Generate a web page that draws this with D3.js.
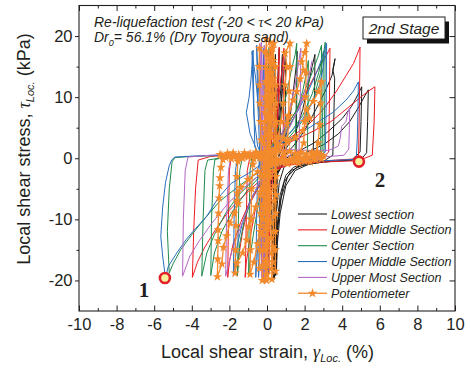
<!DOCTYPE html>
<html><head><meta charset="utf-8">
<script src="https://cdn.jsdelivr.net/npm/d3@7"></script>
<style>
body{margin:0;background:#fff;}
svg{display:block;}
text{font-family:"Liberation Sans",Arial,sans-serif;fill:#231f20;}
</style></head><body>
<svg id="chart" width="471" height="368"></svg>
<script>
// ---- axis ticks ----
const xTickValues = [-10, -8, -6, -4, -2, 0, 2, 4, 6, 8, 10];
const xMinorTicks = [-9, -7, -5, -3, -1, 1, 3, 5, 7, 9];
const yTickValues = [-20, -10, 0, 10, 20];
const yMinorTicks = [-15, -5, 5, 15];

// ---- local shear strain (%) / local shear stress (kPa) records ----
const lowestSection = [
  [0.38,-19.5],[0.4,-8],[0.42,0],[0.5,8],[0.6,15],[0.65,18],[0.6,10],[0.5,2],[0.42,-5],[0.4,-12],[0.36,-19.6],
  [0.38,-10],[0.4,-3],[0.45,0],[0.6,6],[0.75,12],[0.82,17],[0.78,9],[0.65,1],[0.5,-2],[0.44,-8],[0.42,-14],[0.4,-19.8],
  [0.05,0],[0.15,8],[0.25,15],[0.3,19],[0.28,10],[0.22,0],[0.25,-8],[0.3,-15],[0.32,-19],
  [0.34,-10],[0.35,0],[0.4,9],[0.45,17],[0.42,8],[0.38,0],[0.36,-9],[0.38,-18],
  [0.4,-10],[0.45,-2],[0.55,3],[0.75,9],[0.9,14],[1.0,17.5],[0.98,10],[0.95,2],[0.8,-0.5],[0.6,-1.5],[0.48,-4],[0.42,-10],[0.4,-18.5],
  [0.42,-10],[0.46,-3],[0.6,0],[0.9,2.5],[1.2,6],[1.4,11],[1.55,15],[1.6,17.5],[1.58,9],[1.55,1],[1.3,-0.5],[0.9,-1.5],[0.65,-4],[0.5,-9],[0.45,-14],[0.42,-19],
  [0.44,-11],[0.48,-4],[0.65,-0.5],[1.0,1.5],[1.5,4],[1.9,8],[2.2,12],[2.4,15],[2.55,17],[2.52,8],[2.45,0.5],[2.0,-0.8],[1.4,-1.5],[1.0,-2.8],[0.7,-6],[0.55,-11],[0.45,-18.8],
  [0.46,-10],[0.5,-3],[0.8,0],[1.4,2],[2.0,4.5],[2.6,8],[3.1,11],[3.45,13.5],[3.55,15],[3.62,16.3],[3.5,14.5],[3.6,13],[3.55,6],[3.5,0.5],[3.0,-0.5],[2.0,-1],[1.3,-2],[0.9,-4],[0.65,-8],[0.52,-13],[0.46,-19.2],
  [0.48,-10],[0.52,-3],[0.9,-0.2],[1.6,1],[2.5,2.5],[3.3,4.5],[4.0,6.5],[4.5,8.5],[4.85,10.5],[5.04,11.7],[5.0,6],[4.95,1],[4.5,-0.3],[3.5,-0.5],[2.5,-0.8],[1.6,-1.4],[1.1,-3],[0.75,-6.5],[0.55,-12],[0.48,-18.5],
  [0.5,-9],[0.55,-2.5],[1.0,-0.3],[2.0,0.8],[3.0,2.2],[3.8,4],[4.4,6],[4.9,8.5],[5.2,10.2],[5.39,11.2],[5.35,6],[5.3,0.9],[5.0,-0.2],[4.0,-0.4],[3.0,-0.6],[2.2,-1],[1.5,-2],[1.0,-4.5],[0.7,-9],[0.55,-14],[0.5,-19]
];
const lowerMiddleSection = [
  [0,0],[0.1,9],[0.2,18],[0.15,8],[0.05,0],[0.0,-9],[-0.05,-19],[0.0,-9],[0.1,0],[0.2,8],[0.35,18.5],[0.3,8],[0.2,0],[0.1,-8],[0.0,-18.5],
  [0.1,-9],[0.25,0],[0.45,7],[0.6,14],[0.65,18.2],[0.62,10],[0.5,1],[0.3,-3],[0.15,-10],[0.1,-19],
  [0.05,-8],[0.1,-1],[0.3,1.5],[0.5,6],[0.7,12],[0.85,16],[0.9,18],[0.88,9],[0.85,1],[0.6,-0.5],[0.2,-1.5],[-0.2,-4],[-0.6,-8],[-0.9,-13],[-1.1,-17],[-1.16,-19.5],
  [-1.1,-10],[-1.05,-2],[-0.9,0.3],[-0.4,0.6],[0,1],
  [0.4,2.5],[1.0,5],[1.6,8],[2.2,11.5],[2.7,14.5],[3.1,16.5],[3.35,18],[3.32,9],[3.28,1],[2.8,-0.3],[1.8,-0.6],[0.9,-1],[0.3,-2],[-0.3,-4],[-0.9,-7],[-1.4,-10.5],[-1.8,-14],[-2.0,-17],[-2.09,-19.5],
  [-2.05,-10],[-2.0,-2],[-1.9,0.2],[-1.2,0.5],[-0.4,0.8],[0,1.2],
  [0.5,2],[1.3,3.5],[2.2,5.5],[3.0,8],[3.7,11],[4.2,13.5],[4.6,15.5],[4.8,17],[4.95,18.2],[4.92,10],[4.88,2],[4.86,-0.4],[4.0,-0.5],[3.0,-0.6],[2.0,-0.8],[1.0,-1.2],[0.3,-2.2],[-0.5,-4],[-1.2,-6],[-2.0,-8.5],[-2.7,-11.5],[-3.3,-14.5],[-3.7,-17],[-3.97,-19.5],
  [-3.9,-12],[-3.8,-5],[-3.66,-0.3],[-3.0,0.3],[-2.0,0.5],[-1.0,0.7],[-0.2,1],
  [0.6,1.8],[1.5,3],[2.5,4.5],[3.4,6],[4.2,8],[4.9,9.8],[5.4,11],[5.74,11.7],[5.7,6],[5.6,0.5],[5.2,0],[4.2,-0.2],[3.2,-0.4],[2.2,-0.6],[1.2,-1],[0.5,-1.8],[0.0,-3],[-0.5,-5],[-1.0,-8],[-1.3,-12],[-1.5,-16],[-1.6,-19.2]
];
const centerSection = [
  [0,0],[0.05,9],[0.1,18],[0.08,8],[0.02,0],[-0.05,-9],[-0.1,-19],[-0.05,-9],[0.05,0],[0.15,9],[0.3,18.5],[0.25,8],[0.15,0],[0.0,-9],[-0.2,-19],
  [-0.15,-9],[-0.1,-1],[0.2,1.5],[0.6,5],[1.0,10],[1.3,14.5],[1.5,17],[1.58,18.8],[1.55,9],[1.5,1],[1.2,-0.3],[0.6,-0.8],[0.1,-2],[-0.3,-5],[-0.6,-10],[-0.85,-15],[-0.98,-19.3],
  [-0.95,-10],[-0.9,-2],[-0.8,0.4],[-0.3,0.7],[0.05,1],
  [0.4,2.5],[0.9,4.5],[1.5,7.5],[2.0,11],[2.4,14],[2.7,16.5],[2.9,18.5],[2.88,9],[2.85,1],[2.4,-0.3],[1.5,-0.5],[0.8,-0.9],[0.2,-1.8],[-0.3,-3.5],[-0.8,-6.5],[-1.2,-10],[-1.45,-14],[-1.57,-19.2],
  [-1.52,-10],[-1.45,-2],[-1.3,0.3],[-0.6,0.5],[0,0.9],
  [0.5,2],[1.0,4],[1.5,7],[1.9,11],[2.1,14],[2.2,16],[2.18,8],[2.15,1],[1.7,-0.3],[1.0,-0.6],[0.3,-1.3],[-0.4,-3],[-1.1,-5.5],[-1.8,-8.5],[-2.4,-12],[-2.8,-15.5],[-2.99,-19.2],
  [-2.95,-10],[-2.85,-2],[-2.77,-0.2],[-2.0,0.3],[-1.0,0.5],[-0.2,0.8],
  [0.5,2],[1.2,4],[1.9,7],[2.4,10.5],[2.75,14],[3.0,17.5],[2.97,9],[2.93,1],[2.5,-0.3],[1.6,-0.5],[0.7,-0.9],[0.0,-1.8],[-0.7,-3.5],[-1.5,-6],[-2.2,-9],[-2.8,-12.5],[-3.2,-15.5],[-3.47,-19.3],
  [-3.4,-10],[-3.3,-2],[-3.16,-0.3],[-2.2,0.2],[-1.2,0.4],[-0.3,0.7],
  [0.4,1.5],[1.2,3.5],[2.0,6.5],[2.5,10],[2.85,14],[3.1,19],[3.07,9],[3.03,1],[2.6,-0.2],[1.7,-0.4],[0.8,-0.7],[0.0,-1.5],[-0.8,-3],[-1.6,-4.8],[-2.5,-7],[-3.3,-9.8],[-4.0,-12.5],[-4.6,-15],[-5.0,-17.3],[-5.2,-18.8],
  [-5.3,-12],[-5.2,-5],[-5.05,-0.6],[-4.9,0.1],[-4.0,0.3],[-3.0,0.4],[-2.0,0.5],[-1.0,0.6],[-0.3,0.8]
];
const upperMiddleSection = [
  [-0.2,-19],[-0.25,-10],[-0.3,0],[-0.4,8],[-0.5,15],[-0.55,18.5],[-0.5,10],[-0.4,2],[-0.3,-6],[-0.25,-14],[-0.2,-20],
  [0,0],[-0.1,9],[-0.2,18],[-0.15,8],[-0.05,0],[0.0,-9],[0.05,-19],[0.03,-9],[0,0],[-0.2,4],[-0.45,8],[-0.6,13],[-0.8,17.5],
  [-0.75,12],[-0.7,7],[-0.5,2],[-0.3,0.5],[-0.1,-2],[-0.2,-8],[-0.35,-14],[-0.45,-19.5],[-0.4,-10],[-0.35,-2],[-0.5,1],
  [-0.9,4],[-1.1,7.5],[-0.95,10],[-0.85,13],[-0.74,17.7],[-0.7,9],[-0.65,2],[-0.5,0.3],[-0.2,-0.5],[-0.1,-3],[-0.3,-9],[-0.5,-15],[-0.6,-19.5],
  [-0.55,-10],[-0.5,-2],[-0.3,0.5],[0.1,1],
  [0.5,2.5],[1.0,4.5],[1.6,7.5],[2.2,11],[2.7,14.5],[3.0,17],[3.17,18.8],[3.15,9],[3.1,1],[2.6,-0.2],[1.6,-0.5],[0.7,-1],[0.1,-2],[-0.4,-4],[-0.9,-7],[-1.3,-10.5],[-1.6,-14.5],[-1.79,-19.3],
  [-1.75,-10],[-1.68,-2],[-1.55,0.3],[-0.8,0.5],[0,0.9],
  [0.2,1.5],[0.8,2.5],[1.5,3.5],[2.5,5.5],[3.5,7.5],[4.2,9.5],[4.6,11],[4.86,12.5],[4.84,8],[4.8,3],[4.75,0.3],[4.6,-0.2],[3.5,-0.35],[2.5,-0.45],[1.5,-0.6],[0.7,-0.9],[0.3,-1.5],
  [-0.3,-1.0],[-1.0,-2.5],[-1.9,-4.1],[-2.6,-6.5],[-3.2,-9.5],[-3.8,-11.5],[-4.3,-13.3],[-4.8,-15.5],[-5.25,-17.7],[-5.4,-19.6],
  [-5.55,-16],[-5.65,-12.8],[-5.55,-8],[-5.4,-4],[-5.2,-1.2],[-5.05,-0.2],[-4.9,0.2],[-4.0,0.35],[-3.0,0.45],[-2.0,0.55],[-1.0,0.7],[-0.3,1.0],
  [0.3,2],[1.0,3.5],[1.8,6],[2.4,9],[2.8,12],[3.0,15],[3.1,17.5]
];
const upperMostSection = [
  [-0.3,-19.5],[-0.28,-10],[-0.25,0],[-0.3,9],[-0.38,18.8],[-0.32,9],[-0.22,0],[-0.2,-10],[-0.18,-20.2],
  [0,0],[-0.05,9],[-0.15,18.5],[-0.1,8],[-0.05,0],[-0.05,-10],[-0.1,-20.5],[-0.08,-10],[-0.05,0],[-0.2,9],[-0.3,19],[-0.25,8],[-0.15,0],[-0.1,-10],[-0.05,-20],
  [-0.05,-10],[0.0,-1],[0.3,1],[0.8,4],[1.2,8],[1.5,12],[1.7,16],[1.8,18],[1.77,9],[1.7,1.2],[1.2,0.5],[0.5,-0.5],[0.0,-2],[-0.5,-4.5],[-1.0,-8],[-1.5,-12],[-1.9,-15.5],[-2.2,-19.3],
  [-2.15,-10],[-2.05,-2],[-1.9,0.5],[-1.0,0.8],[-0.2,1.1],
  [0.5,1.5],[1.2,1.4],[2.0,1.3],[2.6,1.3],[3.3,1.3],[3.8,2],[3.9,3.4],[3.97,5.2],[4.2,6],[4.3,7.5],[4.4,8.2],[4.38,5],[4.35,1.5],[4.1,0.5],[3.0,0.2],[2.0,-0.2],[1.0,-0.6],[0.2,-1.5],[-0.5,-3],[-1.3,-5],[-2.1,-7.5],[-2.9,-10.5],[-3.6,-13.5],[-4.1,-16],[-4.49,-19.3],
  [-4.45,-10],[-4.35,-2],[-4.2,0.2],[-3.0,0.5],[-2.0,0.6],[-1.0,0.8],[-0.2,1.2],
  [0.5,2],[1.2,5],[1.8,9],[2.2,13],[2.4,16]
];
const potentiometer = [
  [-0.25,-20],[-0.24,-17.5],[-0.23,-15],[-0.22,-12.5],[-0.21,-10],[-0.2,-7.5],[-0.19,-5],[-0.18,-2.5],[-0.17,0],[-0.15,2.5],[-0.13,5],[-0.11,7.5],[-0.1,10],[-0.08,12.5],[-0.06,15],[-0.05,17.5],[-0.04,19.5],
  [-0.02,17],[0.0,14.5],[0.02,12],[0.04,9.5],[0.06,7],[0.08,4.5],[0.1,2],[0.12,-0.5],[0.14,-3],[0.16,-5.5],[0.18,-8],[0.2,-10.5],[0.22,-13],[0.24,-15.5],[0.25,-18],[0.26,-19.8],
  [0.3,-17],[0.32,-14.5],[0.34,-12],[0.36,-9.5],[0.38,-7],[0.4,-4.5],[0.42,-2],[0.44,0.5],[0.42,3],[0.4,5.5],[0.38,8],[0.36,10.5],[0.34,13],[0.32,15.5],[0.3,18],
  [0.45,15],[0.46,12],[0.47,9],[0.48,6],[0.5,3],[0.48,-3],[0.47,-6],[0.46,-9],[0.45,-12],[0.44,-15],[0.45,-18.5],
  [-0.4,-18],[-0.38,-15],[-0.36,-12],[-0.35,-9],[-0.34,-6],[-0.32,-3],[-0.3,0],[-0.32,3],[-0.35,6],[-0.38,9],[-0.4,12],[-0.42,15],[-0.4,18],
  [0.2,16],[0.1,13.5],[0.0,11],[-0.05,8.5],[-0.1,6],[-0.12,3.5],[-0.14,1],[-0.15,-1.5],[-0.12,-4],[-0.1,-6.5],[-0.08,-9],[-0.06,-11.5],[-0.05,-14],[-0.04,-16.5],[-0.05,-19],
  [0.00,-1],[0.02,1.5],[0.04,4],[0.06,6.5],[0.08,9],[0.10,11.5],[0.12,14],[0.14,16.5],[0.16,19],
  [0.14,16],[0.12,13],[0.10,10],[0.08,7],[0.06,4],[0.04,1],[0.02,-2],[0.00,-5],[-0.02,-8],[-0.04,-11],[-0.05,-14],[-0.06,-17],[-0.06,-19.8],
  [-0.03,-17],[0.00,-14],[0.02,-11],[0.05,-8],[0.08,-5],[0.12,-2],[0.16,1],[0.20,4],[0.24,7],[0.27,10],[0.30,13],[0.33,16],[0.36,18.8],
  [0.33,15.5],[0.30,12.5],[0.27,9.5],[0.24,6.5],[0.20,3.5],[0.16,0.5],[0.12,-2.5],[0.08,-5.5],[0.05,-8.5],[0.02,-11.5],[0.00,-14.5],[-0.02,-17.5],[-0.03,-20],
  [0.00,-17],[0.03,-13.5],[0.06,-10],[0.10,-6.5],[0.14,-3],[0.2,0.5],
  [0.4,1.5],[0.6,3.5],[0.75,6],[0.87,9],[0.96,12],[1.05,15],[0.96,17.2],[1.22,18.8],[1.22,15],[1.18,11],[1.15,7],[1.1,3],[0.9,0.5],[0.6,-0.3],[0.3,-0.8],[0.1,-2],[-0.05,-5],[-0.2,-8],[-0.35,-11],[-0.5,-14],[-0.7,-17],[-0.9,-19],
  [-0.88,-15],[-0.85,-10],[-0.82,-5],[-0.75,-1],[-0.6,0.3],[-0.3,0.5],[0.0,0.7],
  [0.3,1],[0.6,2.2],[0.87,3.3],[1.06,5.7],[1.13,6.8],[1.4,9.5],[1.58,10.9],[1.76,13],[1.95,14.4],[1.84,15.8],[2.0,17.3],[2.11,18.8],[2.08,14],[2.05,10],[2.0,6],[1.95,2.5],[1.7,0.5],[1.3,-0.2],[0.9,-0.4],[0.5,-0.6],[0.2,-1.2],[-0.1,-3],[-0.35,-5.5],[-0.6,-8],[-0.85,-10],[-0.99,-11.2],[-1.08,-13.4],[-1.3,-15.5],[-1.6,-17.2],[-1.7,-18.8],
  [-1.68,-15],[-1.65,-11],[-1.62,-7],[-1.6,-3],[-1.55,-0.5],[-1.3,0.4],[-1.0,0.5],[-0.6,0.6],[-0.3,0.7],[0.0,0.8],
  [0.3,1.2],[0.7,1.9],[1.1,2.6],[1.5,3.4],[1.9,4.5],[2.11,6.3],[2.27,6.6],[2.11,7.9],[2.46,9.3],[2.73,10.9],[2.9,12.5],[2.85,9],[2.8,5.5],[2.72,2.5],[2.64,1.0],[2.4,0.3],[2.0,-0.1],[1.6,-0.2],[1.2,-0.3],[0.8,-0.5],[0.4,-0.8],[0.0,-1.4],[-0.5,-2.2],[-1.0,-3.5],[-1.4,-4.8],[-1.58,-5.7],[-1.52,-7.4],[-1.75,-9],[-1.97,-10.6],[-2.15,-12.7],[-2.32,-14.6],[-2.4,-17.3],[-2.64,-19.4],
  [-2.62,-16.5],[-2.6,-13.5],[-2.6,-11.7],[-2.58,-9],[-2.55,-6.5],[-2.52,-4.5],[-2.5,-3.2],[-2.45,-1.5],[-2.35,-0.2],[-2.1,0.3],[-1.8,0.4],[-1.5,0.5],[-1.2,0.5],[-0.9,0.6],[-0.6,0.6],[-0.3,0.7],[0.0,0.8],
  [0.1,4],[0.15,9],[0.2,14],[0.25,18],[0.2,12],[0.15,6],[0.1,0.5],[0.05,-5],[0.0,-10],[-0.05,-15],[0.0,-19],[0.05,-13],[0.1,-7],[0.15,-1],
  [0.5,-0.2],[1.0,-0.3],[1.5,0.1],[2.0,0.2],[2.5,0.4],[2.9,0.5],[2.5,0.1],[2.0,-0.3],[1.5,-0.5],[1.0,-0.6],[0.5,-0.4],[0.0,0.2],[-0.5,0.4],[-1.0,0.3],[-1.5,0.2],[-2.0,0.4],[-2.5,0.6],
  [-2.4,0.5],[-2.1,0.8],[-1.8,0.9],[-1.5,0.6],[-1.2,0.9],[-0.9,0.7],[-0.6,1.0],[-0.3,0.9],[-0.1,-0.3],[0.2,-0.6],[0.5,-0.9],[0.8,-0.7],[1.1,-0.9],[1.4,-0.6],[1.7,-0.8],[2.0,-0.5],[2.3,-0.6],[2.6,-0.3],[2.9,-0.1],[3.0,0.3],
  [2.7,0.8],[2.4,1.0],[2.1,0.7],[1.8,1.0],[1.5,0.8],[1.2,1.1],[0.9,0.9],[0.6,1.2],[0.3,1.0],[-0.4,0.1],[-0.7,-0.1],[-1.0,0.2],[-1.3,0.0],[-1.6,0.2],[-1.9,-0.1],[-2.2,0.1]
];

const legendLabels = ["Lowest section", "Lower Middle Section", "Center Section",
  "Upper Middle Section", "Upper Most Section", "Potentiometer"];
const seriesData = [lowestSection, lowerMiddleSection, centerSection,
  upperMiddleSection, upperMostSection, potentiometer];
const numberedPoints = [[-5.43, -19.6], [4.89, -0.55]];
const numberedLabels = ["1", "2"];

// ---- styles ----
const seriesColors = ["#1b1b1b", "#ec1c24", "#1f8b4c", "#2a6ebd", "#b467c4", "#f38a2c"];
const serif = "'Liberation Serif','Times New Roman',serif";

const svg = d3.select("#chart");
const L = 79, R = 455, T = 5.5, B = 311;
const x = d3.scaleLinear().domain([-10, 10]).range([L, R]);
const y = d3.scaleLinear().domain([-25, 25]).range([B, T]);

svg.append("defs").append("clipPath").attr("id", "plotClip")
  .append("rect").attr("x", L).attr("y", T).attr("width", R - L).attr("height", B - T);

const plot = svg.append("g").attr("clip-path", "url(#plotClip)");
const line = d3.line().x(d => x(d[0])).y(d => y(d[1]));

seriesData.forEach((data, i) => {
  plot.append("path").datum(data).attr("d", line)
    .attr("fill", "none").attr("stroke", seriesColors[i])
    .attr("stroke-width", i === 5 ? 1.3 : 1).attr("stroke-linejoin", "round");
});
const star = d3.symbol().type(d3.symbolStar).size(28);
plot.append("g").selectAll("path").data(potentiometer).join("path")
  .attr("d", star)
  .attr("transform", d => `translate(${x(d[0])},${y(d[1])})`)
  .attr("fill", seriesColors[5]);

// ---- frame and axes ----
const fmt = d => String(d);
function styleAxis(g) {
  g.select(".domain").remove();
  g.selectAll("line").attr("stroke", "#231f20");
  g.selectAll("text").style("font-size", "16.5px").attr("fill", "#231f20");
}
svg.append("rect").attr("x", L).attr("y", T).attr("width", R - L).attr("height", B - T)
  .attr("fill", "none").attr("stroke", "#231f20").attr("stroke-width", 1.1);

svg.append("g").attr("transform", `translate(0,${B})`)
  .call(d3.axisBottom(x).tickValues(xTickValues).tickSize(-5.5).tickPadding(7).tickFormat(fmt))
  .call(styleAxis);
svg.append("g").attr("transform", `translate(0,${B})`)
  .call(d3.axisBottom(x).tickValues(xMinorTicks).tickSize(-3).tickFormat(""))
  .call(styleAxis);
svg.append("g").attr("transform", `translate(0,${T})`)
  .call(d3.axisTop(x).tickValues(xTickValues).tickSize(-5.5).tickFormat(""))
  .call(styleAxis);
svg.append("g").attr("transform", `translate(0,${T})`)
  .call(d3.axisTop(x).tickValues(xMinorTicks).tickSize(-3).tickFormat(""))
  .call(styleAxis);
svg.append("g").attr("transform", `translate(${L},0)`)
  .call(d3.axisLeft(y).tickValues(yTickValues).tickSize(4).tickPadding(2.5).tickFormat(fmt))
  .call(styleAxis);
svg.append("g").attr("transform", `translate(${L},0)`)
  .call(d3.axisLeft(y).tickValues(yMinorTicks).tickSize(2.5).tickFormat(""))
  .call(styleAxis);
svg.append("g").attr("transform", `translate(${R},0)`)
  .call(d3.axisRight(y).tickValues(yTickValues).tickSize(-5.5).tickFormat(""))
  .call(styleAxis);
svg.append("g").attr("transform", `translate(${R},0)`)
  .call(d3.axisRight(y).tickValues(yMinorTicks).tickSize(-3).tickFormat(""))
  .call(styleAxis);

// ---- axis titles ----
const xt = svg.append("text").attr("x", 267.5).attr("y", 358).attr("text-anchor", "middle")
  .style("font-size", "18px");
xt.append("tspan").text("Local shear strain, ");
xt.append("tspan").style("font-style", "italic").style("font-family", serif).text("γ");
xt.append("tspan").style("font-style", "italic").style("font-size", "11px").attr("dy", 4).text("Loc.");
xt.append("tspan").attr("dy", -4).text(" (%)");

const yt = svg.append("text").attr("transform", "translate(30,149) rotate(-90)")
  .attr("text-anchor", "middle").style("font-size", "18px");
yt.append("tspan").text("Local shear stress, ");
yt.append("tspan").style("font-style", "italic").style("font-family", serif).text("τ");
yt.append("tspan").style("font-style", "italic").style("font-size", "11px").attr("dy", 4).text("Loc.");
yt.append("tspan").attr("dy", -4).text(" (kPa)");

// ---- test description ----
const d1 = svg.append("text").attr("x", 94).attr("y", 26.5).style("font-size", "14px").style("font-style", "italic");
d1.append("tspan").text("Re-liquefaction test (-20 < ");
d1.append("tspan").style("font-family", serif).text("τ");
d1.append("tspan").text("< 20 kPa)");
const d2 = svg.append("text").attr("x", 94).attr("y", 42).style("font-size", "14px").style("font-style", "italic");
d2.append("tspan").text("Dr");
d2.append("tspan").style("font-size", "9px").attr("dy", 4).text("0");
d2.append("tspan").attr("dy", -4).text("= 56.1% (Dry Toyoura sand)");

// ---- stage box ----
svg.append("rect").attr("x", 367).attr("y", 21.5).attr("width", 82).attr("height", 22).attr("fill", "#111");
svg.append("rect").attr("x", 363).attr("y", 17).attr("width", 82).attr("height", 22)
  .attr("fill", "#fff").attr("stroke", "#231f20").attr("stroke-width", 1);
svg.append("text").attr("x", 404).attr("y", 33.5).attr("text-anchor", "middle")
  .style("font-style", "italic").style("font-size", "15.5px").text("2nd Stage");

// ---- legend ----
const lg = svg.append("g");
legendLabels.forEach((lab, i) => {
  const yy = 214 + i * 15.85;
  lg.append("line").attr("x1", 298).attr("x2", 327).attr("y1", yy).attr("y2", yy)
    .attr("stroke", seriesColors[i]).attr("stroke-width", i === 5 ? 1.3 : 1.1);
  if (i === 5) {
    lg.append("path").attr("d", d3.symbol().type(d3.symbolStar).size(30))
      .attr("transform", `translate(312.5,${yy})`).attr("fill", seriesColors[5]);
  }
  lg.append("text").attr("x", 331).attr("y", yy + 4.6).style("font-style", "italic")
    .style("font-size", "12.6px").text(lab);
});

// ---- numbered state points ----
svg.selectAll("circle.pt").data(numberedPoints).join("circle").attr("class", "pt")
  .attr("cx", d => x(d[0])).attr("cy", d => y(d[1])).attr("r", 5)
  .attr("fill", "#f6f19a").attr("stroke", "#e3202a").attr("stroke-width", 2.6);
const labelOffsets = [[-21, 18.5], [21, 25]];
svg.selectAll("text.ptlab").data(numberedPoints).join("text").attr("class", "ptlab")
  .attr("x", (d, i) => x(d[0]) + labelOffsets[i][0])
  .attr("y", (d, i) => y(d[1]) + labelOffsets[i][1])
  .attr("text-anchor", "middle")
  .style("font-family", serif).style("font-weight", "bold").style("font-size", "21px")
  .text((d, i) => numberedLabels[i]);
</script>
</body></html>
